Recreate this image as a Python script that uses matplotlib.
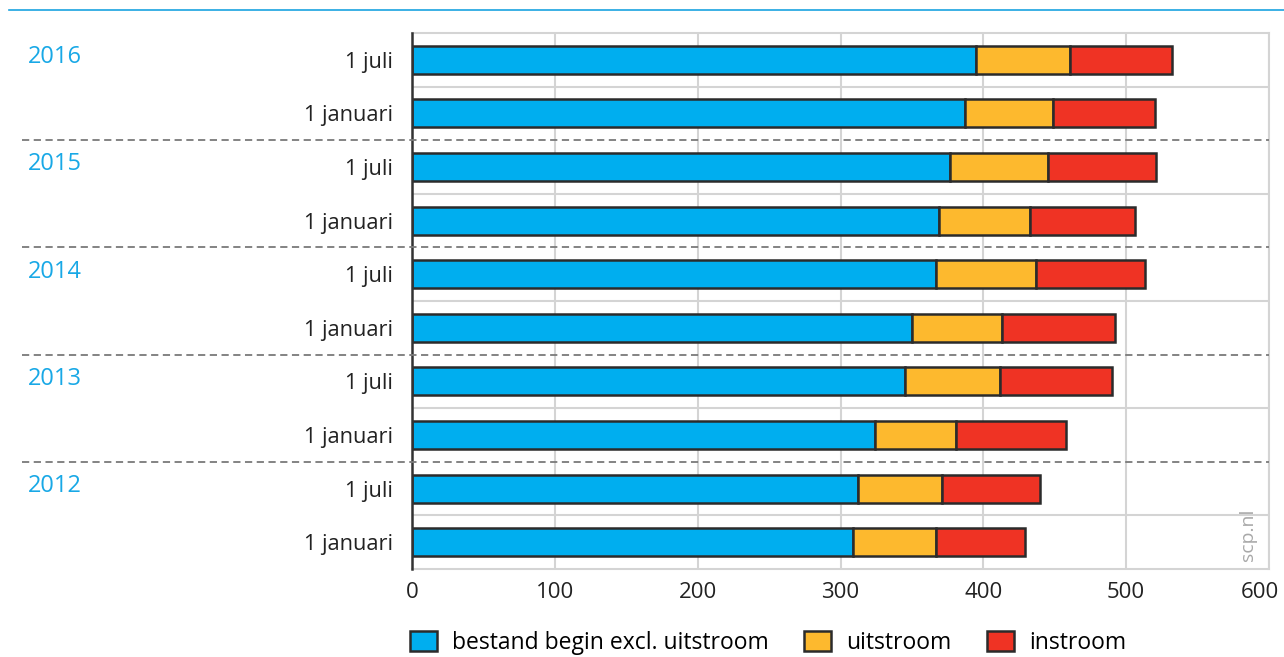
import matplotlib
matplotlib.use("Agg")
import matplotlib.pyplot as plt
import matplotlib.transforms as mtransforms
from matplotlib.patches import Patch
import numpy as np

plt.rcParams['font.family'] = ['Open Sans', 'DejaVu Sans']

years = ["2016", "2015", "2014", "2013", "2012"]
periods = ["1 juli", "1 januari"]
# rows from top to bottom: 2016 juli, 2016 jan, 2015 juli, ...
bestand = [395, 387, 377, 369, 367, 350, 345, 324, 312, 309]
uitstroom = [66, 62, 68, 64, 70, 63, 67, 57, 59, 58]
instroom = [71, 71, 76, 73, 76, 79, 78, 77, 69, 62]
xticks = [0, 100, 200, 300, 400, 500, 600]

series_labels = ["bestand begin excl. uitstroom", "uitstroom", "instroom"]
colors = ["#00aeef", "#fdb92e", "#ef3324"]
edge = "#2b2b2b"
blue_text = "#18a8e6"

fig = plt.figure(figsize=(12.84, 6.57), dpi=100)
ax = fig.add_axes([412/1284, 1 - 569/657, (1269 - 412)/1284, (569 - 33)/657])

n = len(bestand)
y = np.arange(n)
left = np.zeros(n)
for vals, c in zip([bestand, uitstroom, instroom], colors):
    ax.barh(y, vals, left=left, height=0.52, color=c, edgecolor=edge,
            linewidth=1.8, zorder=3)
    left = left + np.array(vals)

ax.set_ylim(n - 0.5, -0.5)
ax.set_xlim(0, 600)
ax.set_xticks(xticks)
ax.set_xticklabels([str(t) for t in xticks], fontsize=16, color="#222222")
ax.tick_params(axis='x', length=0, pad=9)
ax.tick_params(axis='y', length=0, pad=14)
ax.set_yticks(y)
ax.set_yticklabels([periods[i % 2] for i in range(n)], fontsize=15.7, color="#222222")

# shift last tick label left so it stays inside the figure
last = ax.get_xticklabels()[-1]
last.set_transform(last.get_transform() +
                   mtransforms.ScaledTranslation(-9/100, 0, fig.dpi_scale_trans))

ax.grid(axis='x', color="#d4d4d4", linewidth=1.5, zorder=0)
for k in range(1, n):
    if k % 2 == 1:
        ax.axhline(k - 0.5, color="#d4d4d4", linewidth=1.5, zorder=1)

for s in ["top", "right", "bottom"]:
    ax.spines[s].set_color("#d4d4d4")
    ax.spines[s].set_linewidth(1.5)
ax.spines["left"].set_color("#333333")
ax.spines["left"].set_linewidth(1.8)
ax.spines["left"].set_zorder(5)

# dashed year separators extending into label area
for k in range(2, n, 2):
    yy = 1 - (33 + 53.6 * k) / 657
    fig.add_artist(plt.Line2D([22/1284, 1269/1284], [yy, yy], color="#7a7a7a",
                              linewidth=1.3, linestyle=(0, (4, 2.5)), zorder=6))

# year labels
ytrans = mtransforms.blended_transform_factory(fig.transFigure, ax.transData)
for i, yr in enumerate(years):
    ax.text(28/1284, 2 * i - 0.05, yr, transform=ytrans,
            fontsize=17, color=blue_text, va='center', ha='left')

# top blue line
fig.add_artist(plt.Line2D([9/1284, 1.0], [1 - 10/657, 1 - 10/657],
                          color="#1aa3e0", linewidth=1.2))

# watermark
ax.text(0.975, 0.015, "scp.nl", transform=ax.transAxes, rotation=90,
        fontsize=14, color="#a8a8a8", ha='center', va='bottom', zorder=4)

handles = [Patch(facecolor=c, edgecolor=edge, linewidth=1.8) for c in colors]
fig.legend(handles, series_labels, loc='center', ncol=3,
           bbox_to_anchor=(768/1284, 1 - 643/657), frameon=False,
           fontsize=16.5, handlelength=1.18, handleheight=0.92,
           handletextpad=0.65, columnspacing=1.55)

fig.savefig("out.png", dpi=100)
